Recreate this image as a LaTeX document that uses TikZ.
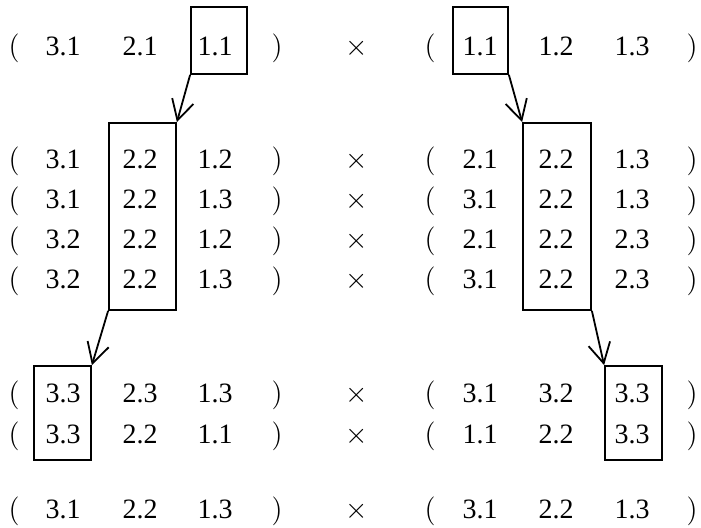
\documentclass[tikz,border=0pt]{standalone}
\usepackage{fontspec}
\setmainfont{Liberation Serif}
\usetikzlibrary{arrows.meta,fit}
\begin{document}
\begin{tikzpicture}[x=0.5pt,y=-0.5pt,
  txt/.style={anchor=base,inner sep=0pt,font=\fontsize{14pt}{17pt}\selectfont},
  sym/.style={anchor=base,inner sep=0pt,font=\fontsize{14pt}{17pt}\selectfont,execute at begin node=$,execute at end node=$},
  boxnode/.style={draw,line width=0.9pt,inner sep=0pt},
  link/.style={line width=0.9pt,-{Straight Barb[length=10pt,width=11pt,line width=0.9pt]}}]
\useasboundingbox (0,0) rectangle (701,527);
% the eight rows of pairs
\foreach \y/\a/\b/\c/\d/\e/\f [count=\i] in {
  55/3.1/2.1/1.1/1.1/1.2/1.3,
  168/3.1/2.2/1.2/2.1/2.2/1.3,
  208/3.1/2.2/1.3/3.1/2.2/1.3,
  248/3.2/2.2/1.2/2.1/2.2/2.3,
  288/3.2/2.2/1.3/3.1/2.2/2.3,
  402/3.3/2.3/1.3/3.1/3.2/3.3,
  443/3.3/2.2/1.1/1.1/2.2/3.3,
  518/3.1/2.2/1.3/3.1/2.2/1.3}{
  \node[sym] (lo\i) at (14,\y) {(};
  \node[txt] (la\i) at (63,\y) {\a};
  \node[txt] (lb\i) at (140,\y) {\b};
  \node[txt] (lc\i) at (215,\y) {\c};
  \node[sym] (lz\i) at (277,\y) {)};
  \node[sym] (x\i) at (357,\y) {\times};
  \node[sym] (ro\i) at (430,\y) {(};
  \node[txt] (ra\i) at (480,\y) {\d};
  \node[txt] (rb\i) at (556,\y) {\e};
  \node[txt] (rc\i) at (632,\y) {\f};
  \node[sym] (rz\i) at (692,\y) {)};
}
% highlighted entries
\node[boxnode,fit={(191,7) (247,74)}] (L1) {};
\node[boxnode,fit={(109,123) (176,310)}] (L2) {};
\node[boxnode,fit={(34,366) (91,460)}] (L3) {};
\node[boxnode,fit={(453,7) (508,74)}] (R1) {};
\node[boxnode,fit={(523,123) (591,310)}] (R2) {};
\node[boxnode,fit={(605,366) (662,460)}] (R3) {};
% links between the highlighted entries
\draw[link] (L1.south west) -- (L2.north east);
\draw[link] (L2.south west) -- (L3.north east);
\draw[link] (R1.south east) -- (R2.north west);
\draw[link] (R2.south east) -- (R3.north west);
\end{tikzpicture}
\end{document}
